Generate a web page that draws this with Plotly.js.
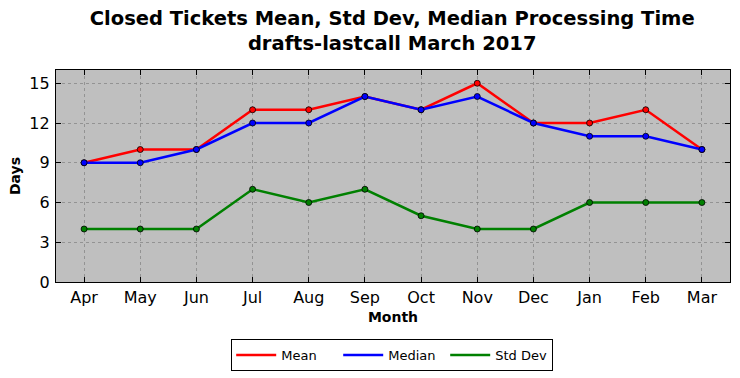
<!DOCTYPE html>
<html>
<head>
<meta charset="utf-8">
<script src="https://cdn.plot.ly/plotly-3.0.1.min.js"></script>
<style>html,body{margin:0;padding:0;background:#fff;}#chart{width:740px;height:378px;}</style>
</head>
<body>
<div id="chart"></div>
<script>
const months = ["Apr","May","Jun","Jul","Aug","Sep","Oct","Nov","Dec","Jan","Feb","Mar"];
const meanDays = [9,10,10,13,13,14,13,15,12,12,13,10];
const medianDays = [9,9,10,12,12,14,13,14,12,11,11,10];
const stdDevDays = [4,4,4,7,6,7,5,4,4,6,6,6];
const yTicks = [0,3,6,9,12,15];
const seriesNames = ['Mean','Median','Std Dev'];
const seriesColors = ['#ff0000','#0000ff','#008000'];
const seriesValues = [meanDays, medianDays, stdDevDays];

const data = [];
seriesNames.forEach(function (name, i) {
  data.push({
    x: months, y: seriesValues[i], name: name, type: 'scatter', mode: 'lines+markers',
    showlegend: false, legendgroup: name,
    line: {color: seriesColors[i], width: 2.5},
    marker: {color: seriesColors[i], size: 6, line: {color: '#000', width: 0.8}}
  });
});
// legend entries (lines only, as in the reference)
seriesNames.forEach(function (name, i) {
  data.push({
    x: [null], y: [null], name: name, type: 'scatter', mode: 'lines',
    legendgroup: name, showlegend: true,
    line: {color: seriesColors[i], width: 2.5}
  });
});

const axisCommon = {
  showline: true, linecolor: '#000', linewidth: 1.2, mirror: 'ticks',
  ticks: 'inside', ticklen: 5, tickcolor: '#000',
  showgrid: true, gridcolor: '#888', griddash: 'dot', gridwidth: 0.8,
  zeroline: false, automargin: false,
  tickfont: {family: 'DejaVu Sans', size: 16, color: '#000'}
};

const layout = {
  width: 740, height: 378,
  margin: {l: 56, r: 10, t: 70, b: 96},
  paper_bgcolor: '#fff', plot_bgcolor: '#bfbfbf',
  font: {family: 'DejaVu Sans', color: '#000'},
  title: {
    text: '<b>Closed Tickets Mean, Std Dev, Median Processing Time<br>drafts-lastcall March 2017</b>',
    font: {family: 'DejaVu Sans', size: 19.5, color: '#000'},
    x: 0.53, xanchor: 'center', yref: 'container', y: 0.935, yanchor: 'middle',
    automargin: false
  },
  xaxis: Object.assign({}, axisCommon, {
    type: 'category', range: [-0.5, 11.5], ticklabelstandoff: 1,
    title: {text: '<b>Month</b>', font: {family: 'DejaVu Sans', size: 14}, standoff: 5}
  }),
  yaxis: Object.assign({}, axisCommon, {
    range: [0, 16], tickvals: yTicks, ticktext: yTicks.map(String), ticklabelstandoff: 2,
    title: {text: '<b>Days</b>', font: {family: 'DejaVu Sans', size: 14}, standoff: 5}
  }),
  showlegend: true,
  legend: {
    orientation: 'h', xref: 'container', x: 0.53, xanchor: 'center',
    yref: 'container', y: 0.103, yanchor: 'top',
    bordercolor: '#000', borderwidth: 1, bgcolor: '#fff',
    font: {family: 'DejaVu Sans', size: 13}, itemwidth: 40,
    entrywidth: 52
  }
};

Plotly.newPlot('chart', data, layout, {displayModeBar: false, staticPlot: true});
</script>
</body>
</html>
